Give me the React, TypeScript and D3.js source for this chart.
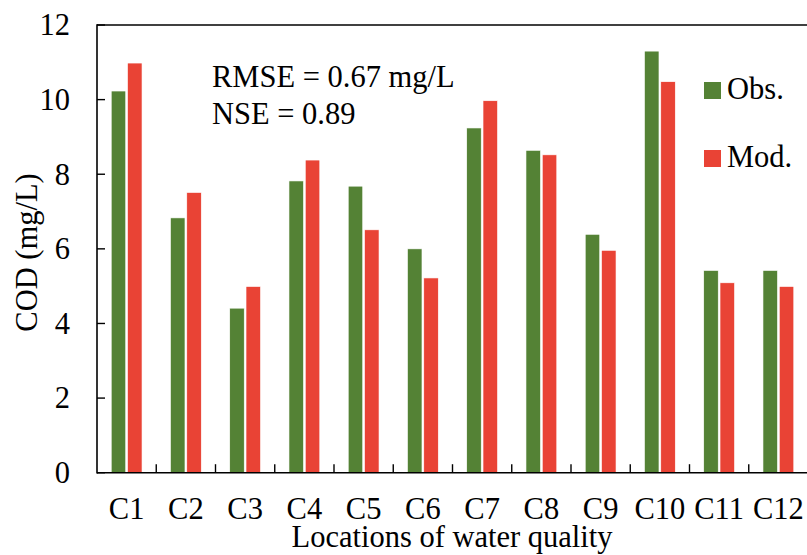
import * as d3 from "d3";

// chart data
const locations = ["C1", "C2", "C3", "C4", "C5", "C6", "C7", "C8", "C9", "C10", "C11", "C12"];
const observed = [10.23, 6.83, 4.41, 7.82, 7.68, 6.0, 9.24, 8.64, 6.39, 11.3, 5.42, 5.42];
const modeled = [10.98, 7.51, 4.99, 8.38, 6.51, 5.22, 9.97, 8.52, 5.96, 10.48, 5.09, 4.99];
const yTicks = [0, 2, 4, 6, 8, 10, 12];
const seriesNames = ["Obs.", "Mod."];
const statLines = ["RMSE = 0.67 mg/L", "NSE = 0.89"];

const WIDTH = 807;
const HEIGHT = 555;
const FONT = '"Liberation Serif", "DejaVu Serif", serif';
const GREEN = "#548235";
const RED = "#E94335";

export default function App() {
  const left = 97;
  const right = 808;
  const top = 25;
  const bottom = 472.7;

  const x = d3.scaleBand<string>().domain(locations).range([left, right]).padding(0);
  const y = d3.scaleLinear().domain([0, 12]).range([bottom, top]);

  // inner band for the two bars of one location
  const bw = x.bandwidth();
  const sub = d3.scaleBand<string>().domain(seriesNames).range([bw / 2 - 15.4, bw / 2 + 15.4]).paddingInner(0.11);

  const series = [
    {name: seriesNames[0], values: observed, color: GREEN},
    {name: seriesNames[1], values: modeled, color: RED},
  ];

  const fs = 30.5;
  const txt = {fontFamily: FONT, fontSize: fs, fill: "#000"};

  return (
    <svg width={WIDTH} height={HEIGHT} style={{position: "absolute", left: 0, top: 0, background: "#fff", fontFamily: FONT}}>
      <rect x={0} y={0} width={WIDTH} height={HEIGHT} fill="#fff" />

      {/* bars */}
      {series.map(s => (
        <g key={s.name}>
          {locations.map((loc, i) => (
            <rect key={loc}
                  x={(x(loc) ?? 0) + (sub(s.name) ?? 0)}
                  y={y(s.values[i])}
                  width={sub.bandwidth()}
                  height={y(0) - y(s.values[i])}
                  fill={s.color}
                  stroke="#fff" strokeWidth={0.6} />
          ))}
        </g>
      ))}

      {/* frame: top line, left axis, bottom axis */}
      <line x1={left} x2={WIDTH} y1={top} y2={top} stroke="#000" strokeWidth={1.6} />
      <line x1={left} x2={left} y1={top - 0.8} y2={bottom + 0.8} stroke="#000" strokeWidth={1.6} />
      <line x1={left} x2={WIDTH} y1={bottom} y2={bottom} stroke="#000" strokeWidth={1.6} />

      {/* y ticks */}
      {yTicks.map(t => (
        <g key={t}>
          <line x1={left} x2={left + 8} y1={y(t)} y2={y(t)} stroke="#000" strokeWidth={1.4} />
          <text x={70} y={y(t)} dy="0.34em" textAnchor="end" style={txt}>{t}</text>
        </g>
      ))}

      {/* x ticks between categories */}
      {locations.slice(1).map(loc => (
        <line key={loc} x1={x(loc)} x2={x(loc)} y1={bottom} y2={bottom - 8.5} stroke="#000" strokeWidth={1.4} />
      ))}
      {locations.map(loc => (
        <text key={loc} x={(x(loc) ?? 0) + bw / 2} y={518.5} textAnchor="middle" style={txt}>{loc}</text>
      ))}

      {/* axis titles */}
      <text x={452} y={547} textAnchor="middle" style={txt}>Locations of water quality</text>
      <text transform={`translate(37,252.5) rotate(-90)`} textAnchor="middle" style={txt}>COD (mg/L)</text>

      {/* statistics */}
      {statLines.map((s, i) => (
        <text key={s} x={212} y={87 + i * 37} style={txt}>{s}</text>
      ))}

      {/* legend */}
      {series.map((s, i) => (
        <g key={s.name} transform={`translate(704,${82 + i * 68})`}>
          <rect x={0} y={0} width={17} height={17} fill={s.color} />
          <text x={23} y={17} style={txt}>{s.name}</text>
        </g>
      ))}
    </svg>
  );
}
